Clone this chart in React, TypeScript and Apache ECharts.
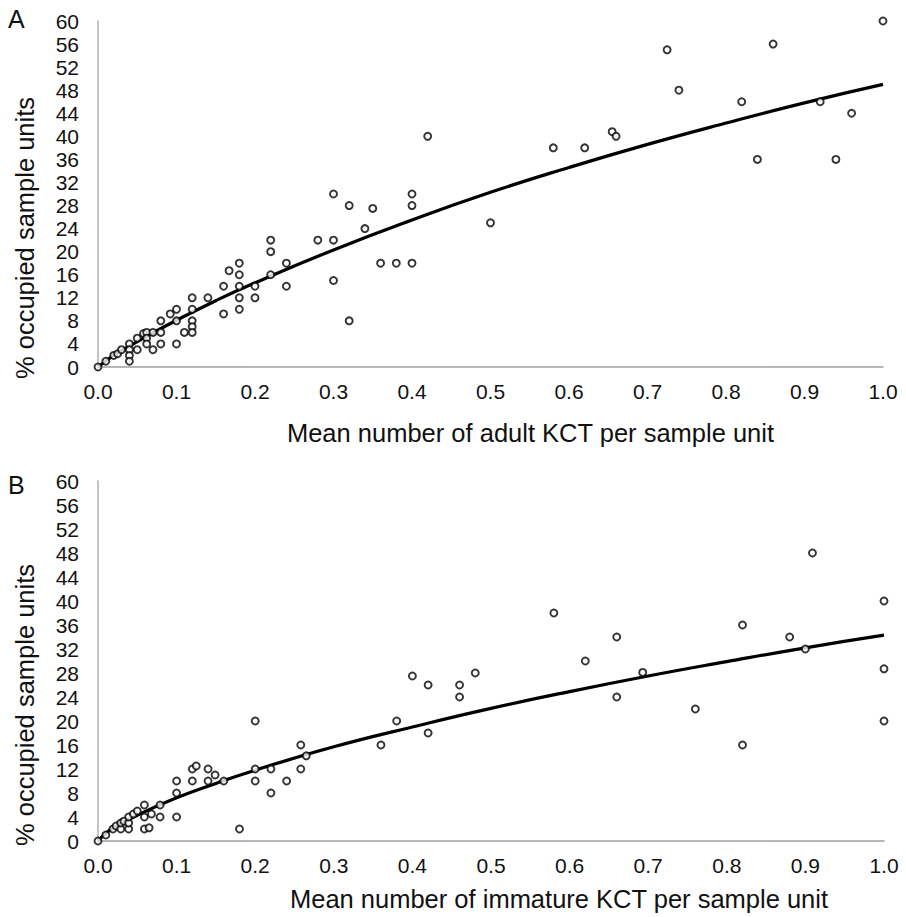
import React, { useEffect, useRef } from "react";
import * as echarts from "echarts";

// Panel A: adult KCT
const adultX = [0, 0.01, 0.02, 0.025, 0.03, 0.04, 0.04, 0.04, 0.04, 0.05, 0.05, 0.058, 0.062, 0.062, 0.062, 0.07, 0.07, 0.08, 0.08, 0.08, 0.092, 0.1, 0.1, 0.1, 0.11, 0.12, 0.12, 0.12, 0.12, 0.12, 0.14, 0.16, 0.16, 0.167, 0.18, 0.18, 0.18, 0.18, 0.18, 0.2, 0.2, 0.22, 0.22, 0.22, 0.24, 0.24, 0.28, 0.3, 0.3, 0.3, 0.32, 0.32, 0.34, 0.35, 0.36, 0.38, 0.4, 0.4, 0.4, 0.42, 0.5, 0.58, 0.62, 0.655, 0.66, 0.725, 0.74, 0.82, 0.84, 0.86, 0.92, 0.94, 0.96, 1.0];
const adultY = [0, 1, 2, 2.3, 3, 4, 3, 2, 1, 5, 3, 5.8, 6, 5, 4, 6, 3, 8, 6, 4, 9.2, 10, 8, 4, 6, 12, 10, 8, 7, 6, 12, 14, 9.2, 16.7, 18, 16, 14, 12, 10, 14, 12, 22, 20, 16, 18, 14, 22, 30, 22, 15, 28, 8, 24, 27.5, 18, 18, 30, 28, 18, 40, 25, 38, 38, 40.8, 40, 55, 48, 46, 36, 56, 46, 36, 44, 60];

// Panel B: immature KCT
const immX = [0, 0.01, 0.019, 0.023, 0.029, 0.029, 0.033, 0.039, 0.039, 0.039, 0.045, 0.05, 0.059, 0.065, 0.059, 0.059, 0.068, 0.079, 0.079, 0.1, 0.1, 0.1, 0.12, 0.12, 0.125, 0.14, 0.14, 0.149, 0.16, 0.18, 0.2, 0.2, 0.2, 0.22, 0.22, 0.24, 0.258, 0.258, 0.265, 0.36, 0.38, 0.4, 0.42, 0.42, 0.46, 0.46, 0.48, 0.58, 0.62, 0.66, 0.66, 0.693, 0.76, 0.82, 0.82, 0.88, 0.9, 0.909, 1.0, 1.0, 1.0];
const immY = [0, 1, 2, 2.5, 2, 3, 3.3, 2, 3, 4, 4.5, 5, 2, 2.2, 4, 6, 4.5, 4, 6, 4, 8, 10, 10, 12, 12.5, 12, 10, 11, 10, 2, 20, 12, 10, 12, 8, 10, 16, 12, 14.2, 16, 20, 27.5, 26, 18, 26, 24, 28, 38, 30, 34, 24, 28.1, 22, 36, 16, 34, 32, 48, 40, 28.7, 20];

// Fitted curves
const curveX = [0, 0.01, 0.02, 0.05, 0.1, 0.15, 0.2, 0.3, 0.4, 0.5, 0.6, 0.7, 0.8, 0.9, 1.0];
const adultCurveY = [0, 1.05, 2.0, 4.4, 8.1, 11.5, 14.6, 20.3, 25.5, 30.3, 34.6, 38.6, 42.3, 45.8, 49.0];
const immCurveY = [0, 1.3, 2.2, 4.3, 7.2, 9.6, 11.8, 15.7, 19.0, 22.1, 24.9, 27.5, 29.9, 32.2, 34.3];

const xTitleA = "Mean number of adult KCT per sample unit";
const xTitleB = "Mean number of immature KCT per sample unit";
const yTitle = "% occupied sample units";
const panelLabels = ["A", "B"];

const FONT = "'Liberation Sans', Arial, sans-serif";

export default function App() {
  const ref = useRef<HTMLDivElement>(null);

  useEffect(() => {
    if (!ref.current) return;
    const chart = echarts.init(ref.current, null, { renderer: "svg" });
    const zip = (xs: number[], ys: number[]) => xs.map((x, i) => [x, ys[i]]);

    const xAxisBase = (gridIndex: number, name: string, gap: number, shift: number) => ({
      type: "value" as const,
      gridIndex,
      min: 0,
      max: 1,
      interval: 0.1,
      name,
      nameLocation: "middle" as const,
      nameGap: gap,
      nameTextStyle: { fontFamily: FONT, fontSize: 25.5, color: "#111", padding: [0, 0, 0, shift] },
      axisLine: { show: true, onZero: false, lineStyle: { color: "#a0a0a0", width: 1.5 } },
      axisTick: { show: false },
      splitLine: { show: false },
      axisLabel: {
        fontFamily: FONT,
        fontSize: 21,
        color: "#111",
        margin: 14,
        formatter: (v: number) => v.toFixed(1),
      },
    });

    const yAxisBase = (gridIndex: number) => ({
      type: "value" as const,
      gridIndex,
      min: 0,
      max: 60,
      interval: 4,
      name: yTitle,
      nameLocation: "middle" as const,
      nameRotate: 90,
      nameGap: 60,
      nameTextStyle: { fontFamily: FONT, fontSize: 25.5, color: "#111", padding: [0, 88, 0, 0] },
      axisLine: { show: true, lineStyle: { color: "#b0b0b0", width: 1.5 } },
      axisTick: { show: false },
      splitLine: { show: false },
      axisLabel: { fontFamily: FONT, fontSize: 21, color: "#111", margin: 19 },
    });

    const scatter = (idx: number, data: number[][]) => ({
      type: "scatter" as const,
      xAxisIndex: idx,
      yAxisIndex: idx,
      data,
      symbol: "circle",
      symbolSize: 7,
      itemStyle: { color: "#fff", borderColor: "#000", borderWidth: 1.9 },
      z: 3,
    });

    const curve = (idx: number, data: number[][]) => ({
      type: "line" as const,
      xAxisIndex: idx,
      yAxisIndex: idx,
      data,
      smooth: true,
      showSymbol: false,
      symbol: "none",
      lineStyle: { color: "#000", width: 3.2 },
      z: 2,
    });

    chart.setOption({
      animation: false,
      backgroundColor: "#fff",
      grid: [
        { left: 98, right: 23, top: 21, bottom: 550, outerBoundsMode: "none", containLabel: false },
        { left: 98, right: 22, top: 481, bottom: 76, outerBoundsMode: "none", containLabel: false },
      ],
      xAxis: [xAxisBase(0, xTitleA, 53, 80), xAxisBase(1, xTitleB, 45, 136)],
      yAxis: [yAxisBase(0), yAxisBase(1)],
      series: [
        curve(0, zip(curveX, adultCurveY)),
        scatter(0, zip(adultX, adultY)),
        curve(1, zip(curveX, immCurveY)),
        scatter(1, zip(immX, immY)),
      ],
      graphic: [
        { type: "text", left: 8, top: 6, style: { text: panelLabels[0], fontFamily: FONT, fontSize: 25, fill: "#111" } },
        { type: "text", left: 8, top: 472, style: { text: panelLabels[1], fontFamily: FONT, fontSize: 25, fill: "#111" } },
      ],
    });

    return () => chart.dispose();
  }, []);

  return (
    <div
      ref={ref}
      style={{ position: "fixed", left: 0, top: 0, width: 906, height: 917, background: "#fff" }}
    />
  );
}
